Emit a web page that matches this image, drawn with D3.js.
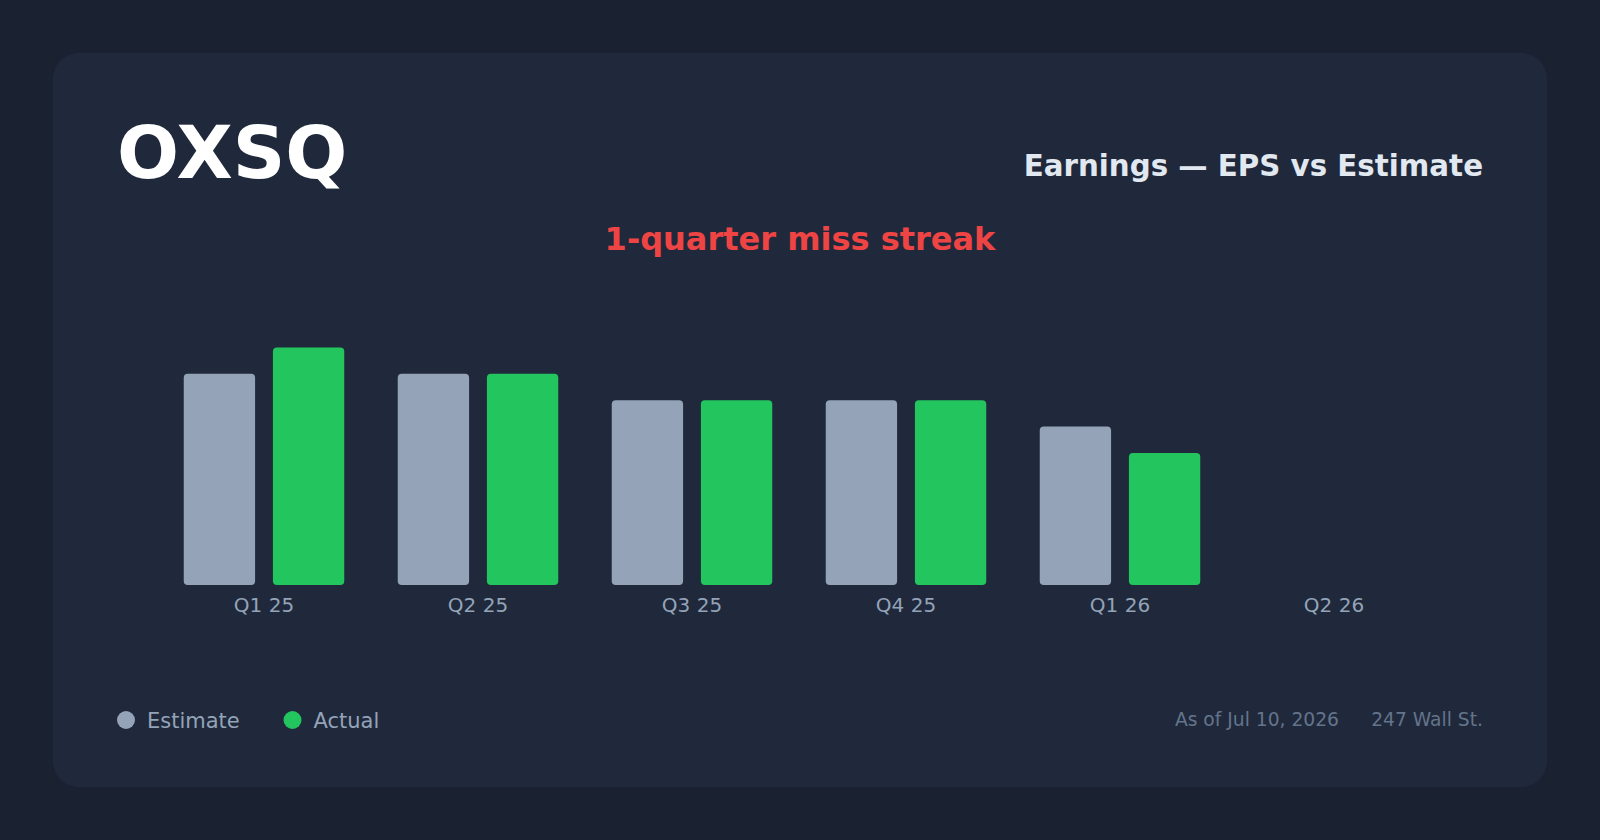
<!DOCTYPE html>
<html>
<head>
<meta charset="utf-8">
<script src="https://cdn.jsdelivr.net/npm/d3@7"></script>
<style>
  html, body { margin: 0; padding: 0; background: #1a2130; }
  svg { display: block; }
  text { font-family: "DejaVu Sans", sans-serif; }
</style>
</head>
<body>
<svg id="chart" width="1600" height="840"></svg>
<script>
const ticker = "OXSQ";
const chartTitle = "Earnings — EPS vs Estimate";
const streakText = "1-quarter miss streak";
const quarters = ["Q1 25", "Q2 25", "Q3 25", "Q4 25", "Q1 26", "Q2 26"];
const estimates = [0.08, 0.08, 0.07, 0.07, 0.06, null];
const actuals = [0.09, 0.08, 0.07, 0.07, 0.05, null];
const seriesNames = ["Estimate", "Actual"];
const seriesColors = ["#94a3b8", "#22c55e"];
const asOfText = "As of Jul 10, 2026";
const sourceText = "247 Wall St.";

const W = 1600, H = 840;
const svg = d3.select("#chart");

svg.append("rect").attr("x", 0).attr("y", 0).attr("width", W).attr("height", H).attr("fill", "#1a2130");
svg.append("rect").attr("x", 53).attr("y", 53).attr("width", 1494).attr("height", 734)
  .attr("rx", 26).attr("fill", "#1f293b");

svg.append("text").attr("x", 117).attr("y", 178)
  .attr("font-size", 73).attr("font-weight", "bold").attr("fill", "#ffffff").text(ticker);

svg.append("text").attr("x", 1483).attr("y", 176).attr("text-anchor", "end")
  .attr("font-size", 29.3).attr("font-weight", "bold").attr("fill", "#e2e8f0").text(chartTitle);

svg.append("text").attr("x", 800).attr("y", 250).attr("text-anchor", "middle")
  .attr("font-size", 32).attr("font-weight", "bold").attr("fill", "#ef4444").text(streakText);

const x = d3.scaleBand().domain(quarters).range([157, 1441]).paddingInner(0.25).paddingOuter(0.125);
const xInner = d3.scaleBand().domain(seriesNames).range([0, x.bandwidth()]).paddingInner(0.2);
const y = d3.scaleLinear().domain([0, 0.1]).range([585, 321]);

const rows = quarters.map((q, i) => ({ q, vals: [estimates[i], actuals[i]] }));

const g = svg.append("g");
const groups = g.selectAll("g.grp").data(rows).join("g")
  .attr("transform", d => `translate(${x(d.q)},0)`);

groups.selectAll("rect").data(d => d.vals.map((v, j) => ({ v, s: seriesNames[j], c: seriesColors[j] })).filter(e => e.v != null))
  .join("rect")
  .attr("x", e => xInner(e.s))
  .attr("width", xInner.bandwidth())
  .attr("y", e => y(e.v))
  .attr("height", e => y(0) - y(e.v))
  .attr("rx", 4)
  .attr("fill", e => e.c);

const xAxis = d3.axisBottom(x).tickSize(0).tickPadding(0);
const ax = svg.append("g").attr("transform", `translate(0,${y(0)})`).call(xAxis);
ax.select(".domain").remove();
ax.selectAll("text").attr("font-size", 20).attr("fill", "#94a3b8")
  .attr("font-family", "DejaVu Sans, sans-serif").attr("dy", null).attr("y", 27);

// legend
const legendX = [126, 292.5];
const leg = svg.append("g").selectAll("g").data(seriesNames).join("g")
  .attr("transform", (d, i) => `translate(${legendX[i]},720)`);
leg.append("circle").attr("r", 9).attr("fill", (d, i) => seriesColors[i]);
leg.append("text").attr("x", 21).attr("y", 7.5).attr("font-size", 21).attr("fill", "#94a3b8").text(d => d);

// footer
svg.append("text").attr("x", 1483).attr("y", 726).attr("text-anchor", "end")
  .attr("font-size", 18.7).attr("fill", "#64748b").text(sourceText);
svg.append("text").attr("x", 1339).attr("y", 726).attr("text-anchor", "end")
  .attr("font-size", 18.7).attr("fill", "#64748b").text(asOfText);
</script>
</body>
</html>
